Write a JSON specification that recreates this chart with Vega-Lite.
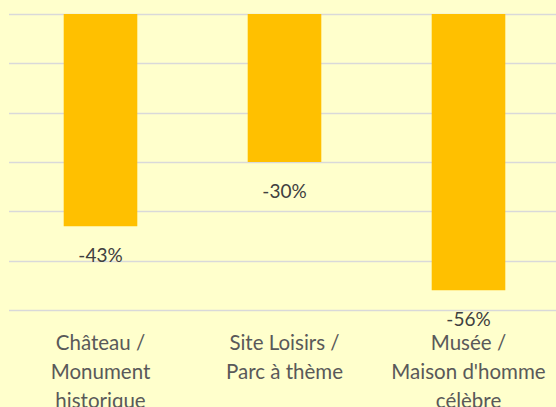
{
  "$schema": "https://vega.github.io/schema/vega-lite/v6.json",
  "autosize": "none",
  "width": 547.5,
  "height": 296,
  "padding": {"left": 8.5, "top": 14, "right": 0, "bottom": 97},
  "background": "#FFFFCC",
  "config": {"view": {"stroke": null}, "font": "Lato"},
  "data": {"values": [
    {"cat": "Château /|Monument|historique", "value": -43, "label": "-43%"},
    {"cat": "Site Loisirs /|Parc à thème", "value": -30, "label": "-30%"},
    {"cat": "Musée /|Maison d'homme|célèbre", "value": -56, "label": "-56%"}
  ]},
  "encoding": {
    "x": {"field": "cat", "type": "nominal", "sort": null,
      "scale": {"paddingInner": 0.6, "paddingOuter": 0.3, "range": [0, 552]},
      "axis": {"title": null, "labelAngle": 0, "domain": false, "ticks": false,
        "labelExpr": "split(datum.label, '|')", "labelFontSize": 20.5, "labelColor": "#595959",
        "labelLineHeight": 29, "labelPadding": 33, "labelBaseline": "middle", "labelFont": "Lato"}},
    "y": {"field": "value", "type": "quantitative",
      "scale": {"domain": [-60, 0], "nice": false},
      "axis": {"title": null, "labels": false, "ticks": false, "domain": false,
        "values": [0, -10, -20, -30, -40, -50, -60], "gridColor": "#D9D9D9", "gridWidth": 1.5}}
  },
  "layer": [
    {"mark": {"type": "bar", "color": "#FFC000"}},
    {"mark": {"type": "text", "dy": 30, "baseline": "middle", "fontSize": 19, "color": "#404040"},
      "encoding": {"text": {"field": "label"}}}
  ]
}
